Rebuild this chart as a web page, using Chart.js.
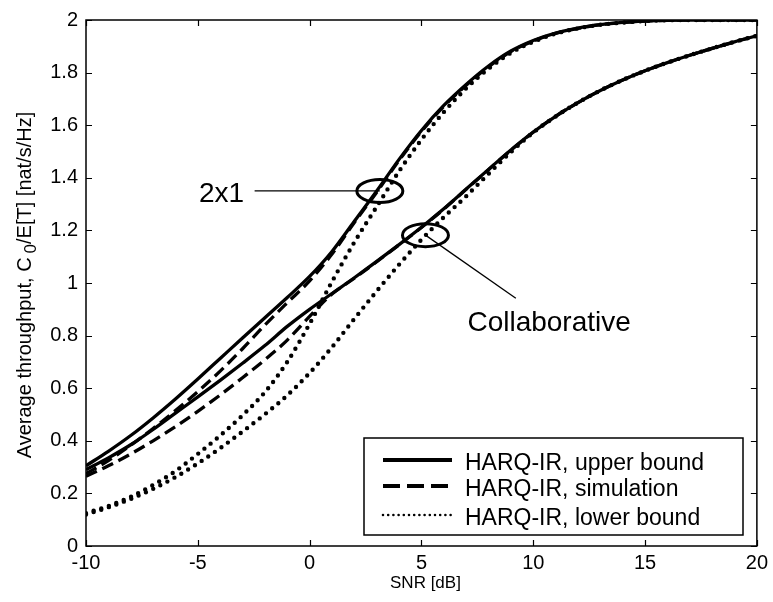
<!DOCTYPE html>
<html>
<head>
<meta charset="utf-8">
<script src="https://cdn.jsdelivr.net/npm/chart.js@4.4.1/dist/chart.umd.min.js"></script>
<style>
html,body{margin:0;padding:0;background:#fff;}
#wrap{width:773px;height:602px;}
</style>
</head>
<body>
<div id="wrap"><canvas id="c" width="773" height="602"></canvas></div>
<script>
// ---- data ----
const snr = [-10,-9,-8,-7,-6,-5,-4,-3,-2,-1,0,1,2,3,4,5,6,7,8,9,10,11,12,13,14,15,16,17,18,19,20];

const upper2x1 = [0.305,0.36,0.42,0.487,0.559,0.635,0.713,0.791,0.868,0.945,1.025,1.12,1.235,1.35,1.47,1.58,1.675,1.755,1.825,1.882,1.922,1.95,1.969,1.982,1.991,1.996,1.999,2.0,2.0,2.0,2.0];
const sim2x1   = [0.275,0.325,0.383,0.447,0.515,0.587,0.665,0.75,0.84,0.925,1.008,1.11,1.23,1.345,1.466,1.576,1.672,1.752,1.822,1.88,1.92,1.949,1.968,1.982,1.99,1.996,1.999,2.0,2.0,2.0,2.0];
const lower2x1 = [0.125,0.152,0.187,0.232,0.285,0.35,0.42,0.497,0.585,0.70,0.845,1.005,1.155,1.29,1.425,1.545,1.65,1.74,1.815,1.875,1.917,1.948,1.968,1.982,1.99,1.996,1.999,2.0,2.0,2.0,2.0];

const upperCol = [0.29,0.335,0.385,0.443,0.505,0.567,0.63,0.695,0.762,0.835,0.90,0.96,1.02,1.082,1.146,1.212,1.282,1.357,1.432,1.506,1.574,1.634,1.686,1.732,1.772,1.807,1.838,1.866,1.892,1.917,1.94];
const simCol   = [0.265,0.305,0.35,0.40,0.454,0.512,0.574,0.64,0.708,0.783,0.873,0.958,1.018,1.081,1.145,1.211,1.281,1.356,1.431,1.505,1.573,1.634,1.686,1.732,1.772,1.807,1.838,1.866,1.892,1.917,1.94];
const lowerCol = [0.12,0.147,0.179,0.217,0.262,0.314,0.372,0.435,0.501,0.573,0.658,0.756,0.864,0.969,1.07,1.165,1.25,1.33,1.415,1.498,1.572,1.633,1.686,1.732,1.772,1.807,1.838,1.866,1.892,1.917,1.94];

const legendLabels = ['HARQ-IR, upper bound','HARQ-IR, simulation','HARQ-IR, lower bound'];
const groupLabels = ['2x1','Collaborative'];
const xTitle = 'SNR [dB]';
const yTitleParts = ['Average throughput, C', '0', '/E[T] [nat/s/Hz]'];

// annotation anchors in data units (ellipse centre, leader-line end, label centre)
const annotations = [
  {text: groupLabels[0], centre: [3.14, 1.35],  leaderEnd: [-2.46, 1.35],  label: [-3.94, 1.339]},
  {text: groupLabels[1], centre: [5.18, 1.182], leaderEnd: [9.22, 0.942],  label: [10.71, 0.845]}
];

const FONT = "'Liberation Sans', Arial, Helvetica, sans-serif";
const styles = {
  solid:  {borderWidth: 3.3, borderDash: [],      borderCapStyle: 'butt'},
  dashed: {borderWidth: 3.3, borderDash: [12, 6], borderCapStyle: 'butt'},
  dotted: {borderWidth: 4.4, borderDash: [0, 8],  borderCapStyle: 'round'}
};

function pts(ys){ return snr.map((x,i)=>({x:x, y:ys[i]})); }
function ds(label, ys, st){
  return Object.assign({label:label, data:pts(ys), borderColor:'#000', backgroundColor:'#000',
    pointRadius:0, fill:false, cubicInterpolationMode:'monotone'}, styles[st]);
}

const overlay = {
  id: 'overlay',
  afterDraw(chart){
    const ctx = chart.ctx, a = chart.chartArea, xs = chart.scales.x, ys = chart.scales.y;
    ctx.save();
    ctx.strokeStyle = '#000'; ctx.fillStyle = '#000';
    // frame
    ctx.lineWidth = 1.5;
    ctx.strokeRect(a.left, a.top, a.right - a.left, a.bottom - a.top);
    // inward ticks on all sides
    ctx.lineWidth = 1.2;
    const tl = 6;
    xs.ticks.forEach(t => {
      const px = Math.round(xs.getPixelForValue(t.value)) + 0.5;
      ctx.beginPath();
      ctx.moveTo(px, a.bottom); ctx.lineTo(px, a.bottom - tl);
      ctx.moveTo(px, a.top); ctx.lineTo(px, a.top + tl);
      ctx.stroke();
    });
    ys.ticks.forEach(t => {
      const py = Math.round(ys.getPixelForValue(t.value)) + 0.5;
      ctx.beginPath();
      ctx.moveTo(a.left, py); ctx.lineTo(a.left + tl, py);
      ctx.moveTo(a.right, py); ctx.lineTo(a.right - tl, py);
      ctx.stroke();
    });
    // x title
    ctx.font = '17px ' + FONT;
    ctx.textAlign = 'center'; ctx.textBaseline = 'alphabetic';
    ctx.fillText(xTitle, (a.left + a.right) / 2 + 4, 588);
    // y title with subscript
    ctx.save();
    const f1 = '20px ' + FONT, f2 = '17px ' + FONT;
    ctx.font = f1;
    const w1 = ctx.measureText(yTitleParts[0]).width;
    const w3 = ctx.measureText(yTitleParts[2]).width;
    ctx.font = f2;
    const w2 = ctx.measureText(yTitleParts[1]).width;
    const gap = 4;
    const total = w1 + gap + w2 + w3;
    ctx.translate(31, 285);
    ctx.rotate(-Math.PI / 2);
    ctx.textAlign = 'left';
    let sx = -total / 2;
    ctx.font = f1; ctx.fillText(yTitleParts[0], sx, 0); sx += w1 + gap;
    ctx.font = f2; ctx.fillText(yTitleParts[1], sx, 5); sx += w2;
    ctx.font = f1; ctx.fillText(yTitleParts[2], sx, 0);
    ctx.restore();
    // annotations
    annotations.forEach(an => {
      const cx = xs.getPixelForValue(an.centre[0]), cy = ys.getPixelForValue(an.centre[1]);
      const ex = xs.getPixelForValue(an.leaderEnd[0]), ey = ys.getPixelForValue(an.leaderEnd[1]);
      ctx.lineWidth = 1.3;
      ctx.beginPath(); ctx.moveTo(ex, ey); ctx.lineTo(cx, cy); ctx.stroke();
      ctx.lineWidth = 3;
      ctx.beginPath(); ctx.ellipse(cx, cy, 23, 11.5, 0, 0, Math.PI * 2); ctx.stroke();
      ctx.font = '28px ' + FONT;
      ctx.textAlign = 'center'; ctx.textBaseline = 'middle';
      ctx.fillText(an.text, xs.getPixelForValue(an.label[0]), ys.getPixelForValue(an.label[1]));
    });
    // legend
    const bx = 364, by = 438, bw = 379, bh = 97;
    ctx.fillStyle = '#fff';
    ctx.fillRect(bx, by, bw, bh);
    ctx.fillStyle = '#000';
    ctx.lineWidth = 1.5;
    ctx.strokeRect(bx, by, bw, bh);
    const rows = [
      {y: 460, dash: [],      w: 4,   cap: 'butt'},
      {y: 486, dash: [17, 7],  w: 4,   cap: 'butt'},
      {y: 515, dash: [0, 5.2], w: 2.6, cap: 'round'}
    ];
    rows.forEach((r, i) => {
      ctx.save();
      ctx.lineWidth = r.w; ctx.setLineDash(r.dash); ctx.lineCap = r.cap;
      ctx.beginPath(); ctx.moveTo(383, r.y); ctx.lineTo(452, r.y); ctx.stroke();
      ctx.restore();
      ctx.font = '23px ' + FONT;
      ctx.textAlign = 'left'; ctx.textBaseline = 'alphabetic';
      ctx.fillText(legendLabels[i], 465, r.y + 10);
    });
    ctx.restore();
  }
};

const tickFmt = v => String(Math.round(v * 10) / 10);

new Chart(document.getElementById('c'), {
  type: 'line',
  data: {
    datasets: [
      ds('2x1 ' + legendLabels[0], upper2x1, 'solid'),
      ds('2x1 ' + legendLabels[1], sim2x1, 'dashed'),
      ds('2x1 ' + legendLabels[2], lower2x1, 'dotted'),
      ds('Collaborative ' + legendLabels[0], upperCol, 'solid'),
      ds('Collaborative ' + legendLabels[1], simCol, 'dashed'),
      ds('Collaborative ' + legendLabels[2], lowerCol, 'dotted')
    ]
  },
  options: {
    responsive: false,
    animation: false,
    devicePixelRatio: 1,
    layout: {padding: {top: 17, right: 15, left: 0, bottom: 0}},
    plugins: {legend: {display: false}, tooltip: {enabled: false}},
    scales: {
      x: {
        type: 'linear', min: -10, max: 20,
        ticks: {stepSize: 5, color: '#000', font: {family: FONT, size: 20}, padding: 5, maxRotation: 0, callback: tickFmt},
        grid: {display: false, drawTicks: false},
        border: {display: false},
        afterFit(s){ s.height = 56; }
      },
      y: {
        type: 'linear', min: 0, max: 2,
        ticks: {stepSize: 0.2, color: '#000', font: {family: FONT, size: 20}, padding: 8, callback: tickFmt},
        grid: {display: false, drawTicks: false},
        border: {display: false},
        afterFit(s){ s.width = 86; }
      }
    }
  },
  plugins: [overlay]
});
</script>
</body>
</html>
